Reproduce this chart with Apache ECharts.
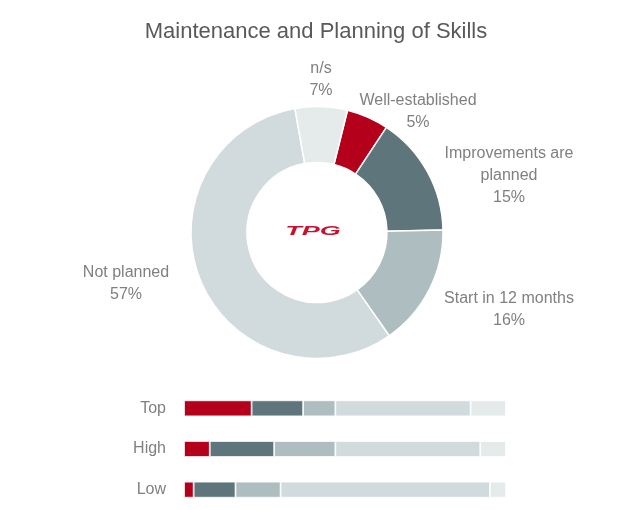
<!DOCTYPE html>
<html>
<head>
<meta charset="utf-8">
<script src="https://cdn.jsdelivr.net/npm/echarts@6/dist/echarts.min.js"></script>
<style>
  html, body { margin: 0; padding: 0; background: #fff; }
  #chart { width: 641px; height: 510px; }
</style>
</head>
<body>
<div id="chart"></div>
<script>
// share of each answer, overall (donut), clockwise from top-right
var categories = ['Well-established', 'Improvements are planned', 'Start in 12 months', 'Not planned', 'n/s'];
var pieLabels = ['Well-established', 'Improvements are\nplanned', 'Start in 12 months', 'Not planned', 'n/s'];
var pieValues = [5.4, 15.4, 15.6, 56.9, 6.7];

// breakdown by group (stacked bars), same order as categories
var groups = ['Top', 'High', 'Low'];
var wellEstablished = [21, 8, 3];
var improvements = [16, 20, 13];
var startIn12 = [10, 19, 14];
var notPlanned = [42, 45, 65];
var notSpecified = [11, 8, 5];

var colors = ['#b5001c', '#5e767b', '#adbdc0', '#d1dbdd', '#e5ebeb'];
var labelPos = [[418, 112], [509, 176], [509, 310], [126, 284], [321, 80]];
var font = 'Liberation Sans';
var grey = '#808080';

var chart = echarts.init(document.getElementById('chart'));

var barData = [wellEstablished, improvements, startIn12, notPlanned, notSpecified];
var barSeries = [];
for (var i = 0; i < categories.length; i++) {
    barSeries.push({
        name: categories[i],
        type: 'bar',
        stack: 'all',
        barWidth: 16,
        xAxisIndex: 0,
        yAxisIndex: 0,
        itemStyle: { color: colors[i], borderColor: '#fff', borderWidth: 0.8 },
        data: barData[i]
    });
}

var option = {
    animation: false,
    textStyle: { fontFamily: font },
    title: {
        text: 'Maintenance and Planning of Skills',
        left: 311,
        textAlign: 'center',
        top: 16,
        textStyle: { fontFamily: font, fontSize: 22, fontWeight: 'normal', color: '#595959' }
    },
    grid: { left: 184, right: 135, top: 388, height: 123 },
    xAxis: { type: 'value', min: 0, max: 100, show: false },
    yAxis: {
        type: 'category',
        data: groups,
        inverse: true,
        axisLine: { show: false },
        axisTick: { show: false },
        axisLabel: { color: grey, fontSize: 16, fontFamily: font, margin: 18 }
    },
    graphic: [{
        type: 'text',
        x: 313,
        y: 232,
        scaleX: 2.25,
        style: {
            x: 0, y: 0,
            text: 'TPG',
            fill: '#c8102e',
            font: 'italic bold 12px "Liberation Sans"',
            textAlign: 'center',
            textVerticalAlign: 'middle'
        }
    }],
    series: [{
        type: 'pie',
        center: [317, 232.5],
        radius: [70, 126],
        startAngle: 76,
        clockwise: true,
        itemStyle: { borderColor: '#fff', borderWidth: 1.5 },
        label: {
            show: true,
            position: 'outside',
            color: grey,
            fontSize: 16,
            fontFamily: font,
            lineHeight: 22,
            align: 'center',
            formatter: function (p) { return pieLabels[p.dataIndex] + '\n' + Math.round(p.value) + '%'; }
        },
        labelLine: { show: false },
        labelLayout: function (p) {
            var pos = labelPos[p.dataIndex];
            return { x: pos[0], y: pos[1], align: 'center', verticalAlign: 'middle' };
        },
        data: categories.map(function (c, i) {
            return { name: c, value: pieValues[i], itemStyle: { color: colors[i] } };
        })
    }].concat(barSeries)
};

chart.setOption(option);
window.onresize = chart.resize;
</script>
</body>
</html>
